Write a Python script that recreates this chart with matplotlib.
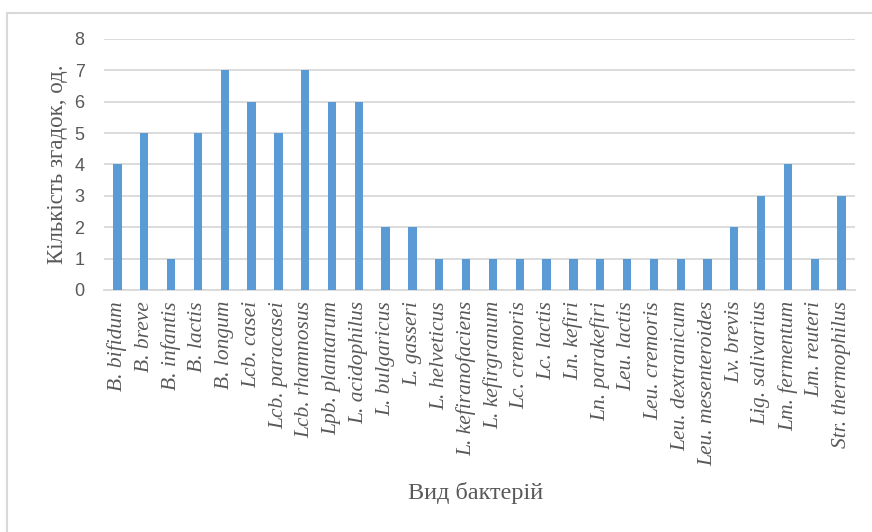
import matplotlib
matplotlib.use("Agg")
import matplotlib.pyplot as plt
from matplotlib.lines import Line2D

species = [
    "B. bifidum", "B. breve", "B. infantis", "B. lactis", "B. longum",
    "Lcb. casei", "Lcb. paracasei", "Lcb. rhamnosus", "Lpb. plantarum",
    "L. acidophilus", "L. bulgaricus", "L. gasseri", "L. helveticus",
    "L. kefiranofaciens", "L. kefirgranum", "Lc. cremoris", "Lc. lactis",
    "Ln. kefiri", "Ln. parakefiri", "Leu. lactis", "Leu. cremoris",
    "Leu. dextranicum", "Leu. mesenteroides", "Lv. brevis",
    "Lig. salivarius", "Lm. fermentum", "Lm. reuteri", "Str. thermophilus",
]
mentions = [4, 5, 1, 5, 7, 6, 5, 7, 6, 6, 2, 2, 1, 1, 1, 1, 1, 1, 1, 1, 1,
            1, 1, 2, 3, 4, 1, 3]
y_ticks = [0, 1, 2, 3, 4, 5, 6, 7, 8]

bar_color = "#5B9BD5"
grid_color = "#D9D9D9"
text_color = "#595959"

fig = plt.figure(figsize=(8.72, 5.32), dpi=100)
ax = fig.add_axes([0.1193, 0.4549, 0.8612, 0.4718])

x = list(range(len(species)))
ax.bar(x, mentions, width=0.31, color=bar_color, zorder=3)

ax.set_xlim(-0.5, len(species) - 0.5)
ax.set_ylim(0, 8)
ax.set_yticks(y_ticks)
ax.set_yticklabels([str(t) for t in y_ticks], fontsize=13,
                   family="Liberation Sans", color=text_color)
ax.yaxis.grid(True, color=grid_color, linewidth=1.3, zorder=0)
ax.tick_params(axis="both", length=0)
ax.tick_params(axis="y", pad=14)

ax.set_xticks(x)
ax.set_xticklabels(species, rotation=90, fontsize=15.5, family="Liberation Serif",
                   style="italic", color=text_color)
ax.tick_params(axis="x", pad=8)

for side in ("top", "right", "left"):
    ax.spines[side].set_visible(False)
ax.spines["bottom"].set_color(grid_color)
ax.spines["bottom"].set_linewidth(1.3)

ax.set_ylabel("Кількість згадок, од.", fontsize=16.5, family="Liberation Serif",
              color=text_color, labelpad=5)
fig.text(0.545, 0.073, "Вид бактерій", fontsize=17.5, family="Liberation Serif",
         color=text_color, ha="center", va="center")

# outer chart frame
fig.add_artist(Line2D([0.0085, 0.0085], [0, 0.976], transform=fig.transFigure,
                      color=grid_color, linewidth=1.5))
fig.add_artist(Line2D([0.0085, 1.0], [0.976, 0.976], transform=fig.transFigure,
                      color=grid_color, linewidth=1.5))

fig.savefig("out.png", dpi=100, facecolor="white")
